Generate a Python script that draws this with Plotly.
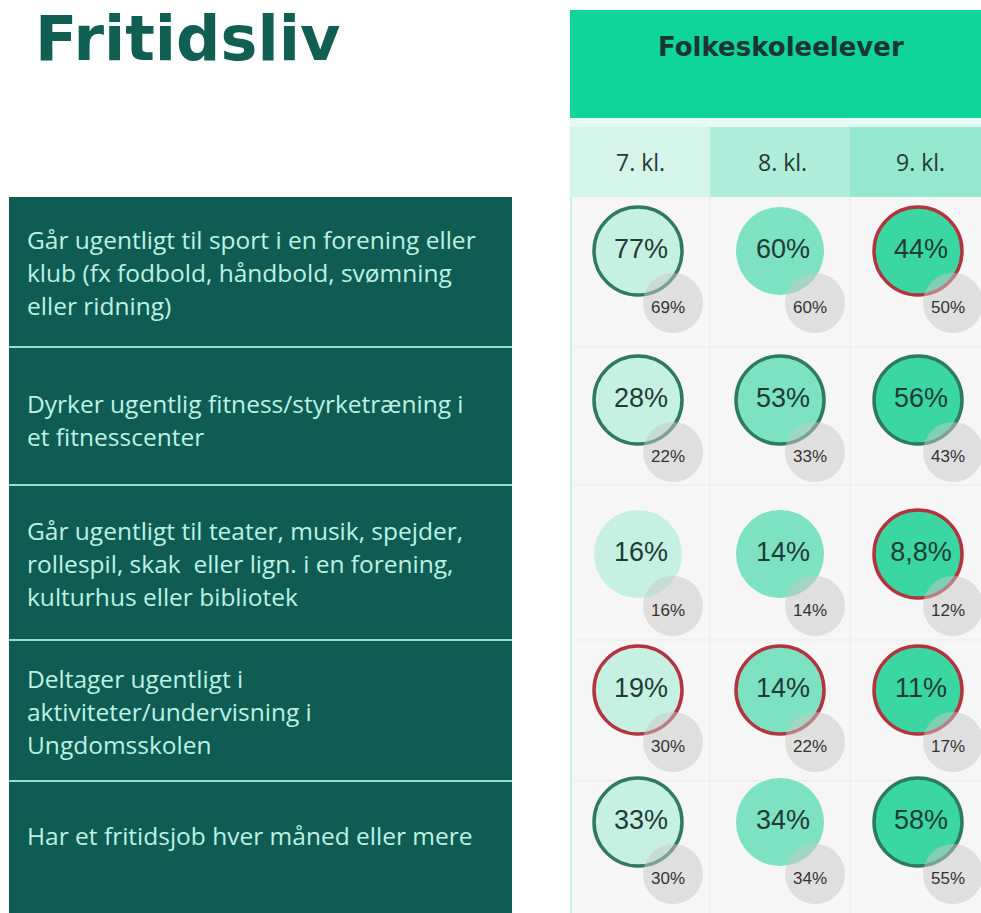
import plotly.graph_objects as go

# ---------------- data ----------------
title = "Fritidsliv"
group_header = "Folkeskoleelever"
grades = ["7. kl.", "8. kl.", "9. kl."]
row_labels = [
    ["Går ugentligt til sport i en forening eller",
     "klub (fx fodbold, håndbold, svømning",
     "eller ridning)"],
    ["Dyrker ugentlig fitness/styrketræning i",
     "et fitnesscenter"],
    ["Går ugentligt til teater, musik, spejder,",
     "rollespil, skak  eller lign. i en forening,",
     "kulturhus eller bibliotek"],
    ["Deltager ugentligt i",
     "aktiviteter/undervisning i",
     "Ungdomsskolen"],
    ["Har et fritidsjob hver måned eller mere"],
]
values = [
    [77, 60, 44],
    [28, 53, 56],
    [16, 14, 8.8],
    [19, 14, 11],
    [33, 34, 58],
]
comparison = [
    [69, 60, 50],
    [22, 33, 43],
    [16, 14, 12],
    [30, 22, 17],
    [30, 34, 55],
]

# ---------------- layout constants ----------------
W, H = 981, 913
col_edges = [570, 710, 850, 981]
col_cx = [638, 780, 918]
row_edges = [197, 347, 485, 640, 781, 913]
row_cy = [251, 400, 554, 690, 822]
label_cy = [272, 420, 563, 711, 835]
line_gap = 33
grade_fill = ["#d5f5eb", "#b0eedb", "#93e8cd"]
circle_fill = ["#c6f1e2", "#7de2c1", "#3ad7a2"]
dark = "#0f5c54"
green_ring = "#2f7a5f"
red_ring = "#b3343f"


def fmt(v):
    s = ("%g" % v).replace(".", ",")
    return s + "%"


shapes = []
# header block
shapes.append(dict(type="rect", x0=570, x1=W, y0=10, y1=118,
                   fillcolor="#0fd59b", line=dict(width=0), layer="below"))
shapes.append(dict(type="rect", x0=570, x1=W, y0=118, y1=127,
                   fillcolor="#e6fbf5", line=dict(width=0), layer="below"))
for i in range(3):
    shapes.append(dict(type="rect", x0=col_edges[i], x1=col_edges[i + 1], y0=127, y1=197,
                       fillcolor=grade_fill[i], line=dict(width=0), layer="below"))
# grid background
shapes.append(dict(type="rect", x0=570, x1=W, y0=197, y1=H,
                   fillcolor="#f6f6f6", line=dict(width=0), layer="below"))
shapes.append(dict(type="line", x0=571, x1=571, y0=197, y1=H,
                   line=dict(color="#c9f1e4", width=2), layer="below"))
for e in row_edges[1:-1]:
    shapes.append(dict(type="line", x0=572, x1=W, y0=e, y1=e,
                       line=dict(color="#ebebeb", width=1), layer="below"))
for e in col_edges[1:-1]:
    shapes.append(dict(type="line", x0=e, x1=e, y0=197, y1=H,
                       line=dict(color="#ebebeb", width=1), layer="below"))
# dark label panel
shapes.append(dict(type="rect", x0=9, x1=512, y0=197, y1=H,
                   fillcolor=dark, line=dict(width=0), layer="below"))
for e in row_edges[1:-1]:
    shapes.append(dict(type="line", x0=9, x1=512, y0=e, y1=e,
                       line=dict(color="#8fe3cb", width=2), layer="below"))

fig = go.Figure()

mx, my, mfill, mline, mlw, mtext = [], [], [], [], [], []
gx, gy, gtext = [], [], []
for r, row in enumerate(values):
    for c, v in enumerate(row):
        mx.append(col_cx[c]); my.append(row_cy[r])
        mfill.append(circle_fill[c])
        comp = comparison[r][c]
        if v > comp:
            mline.append(green_ring); mlw.append(3.5)
        elif v < comp:
            mline.append(red_ring); mlw.append(3.5)
        else:
            mline.append(circle_fill[c]); mlw.append(0)
        mtext.append(fmt(v))
        gx.append(col_cx[c] + 35); gy.append(row_cy[r] + 52)
        gtext.append(fmt(comp))

fig.add_trace(go.Scatter(
    x=mx, y=my, mode="markers", hoverinfo="skip",
    marker=dict(size=88, color=mfill, line=dict(color=mline, width=mlw)),
    showlegend=False))
fig.add_trace(go.Scatter(
    x=gx, y=gy, mode="markers", hoverinfo="skip",
    marker=dict(size=60, color="rgba(200,200,200,0.5)", line=dict(width=0)),
    showlegend=False))
fig.add_trace(go.Scatter(
    x=[x + 3 for x in mx], y=my, mode="text", text=mtext, hoverinfo="skip",
    textposition="middle center",
    textfont=dict(family="Liberation Sans, Arial", size=27, color="#1e3b35"),
    showlegend=False))
fig.add_trace(go.Scatter(
    x=[x - 5 for x in gx], y=[y + 6 for y in gy], mode="text", text=gtext, hoverinfo="skip",
    textposition="middle center",
    textfont=dict(family="Liberation Sans, Arial", size=17, color="#333333"),
    showlegend=False))

annotations = []
annotations.append(dict(x=33, y=38, text="<b>" + title + "</b>", showarrow=False,
                        xanchor="left", yanchor="middle",
                        font=dict(family="DejaVu Sans", size=62, color="#115e52")))
annotations.append(dict(x=(570 + W) / 2 + 5, y=47, text="<b>" + group_header + "</b>", showarrow=False,
                        xanchor="center", yanchor="middle",
                        font=dict(family="DejaVu Sans", size=26, color="#1b3630")))
for i, g in enumerate(grades):
    annotations.append(dict(x=col_cx[i] + 2, y=162, text=g, showarrow=False,
                            xanchor="center", yanchor="middle",
                            font=dict(family="Open Sans", size=23, color="#243a35")))
for r, lines in enumerate(row_labels):
    n = len(lines)
    for k, ln in enumerate(lines):
        yy = label_cy[r] + (k - (n - 1) / 2) * line_gap
        annotations.append(dict(x=25, y=yy, text=ln, showarrow=False,
                                xanchor="left", yanchor="middle",
                                font=dict(family="Open Sans", size=24.5, color="#bdf2e3")))

fig.update_layout(
    width=W, height=H,
    margin=dict(l=0, r=0, t=0, b=0),
    paper_bgcolor="white", plot_bgcolor="white",
    xaxis=dict(range=[0, W], visible=False, fixedrange=True),
    yaxis=dict(range=[H, 0], visible=False, fixedrange=True),
    shapes=shapes, annotations=annotations,
)
fig.write_html("out.html", config={"displayModeBar": False},
               post_script="document.body.style.margin='0';document.body.style.overflow='hidden';")
